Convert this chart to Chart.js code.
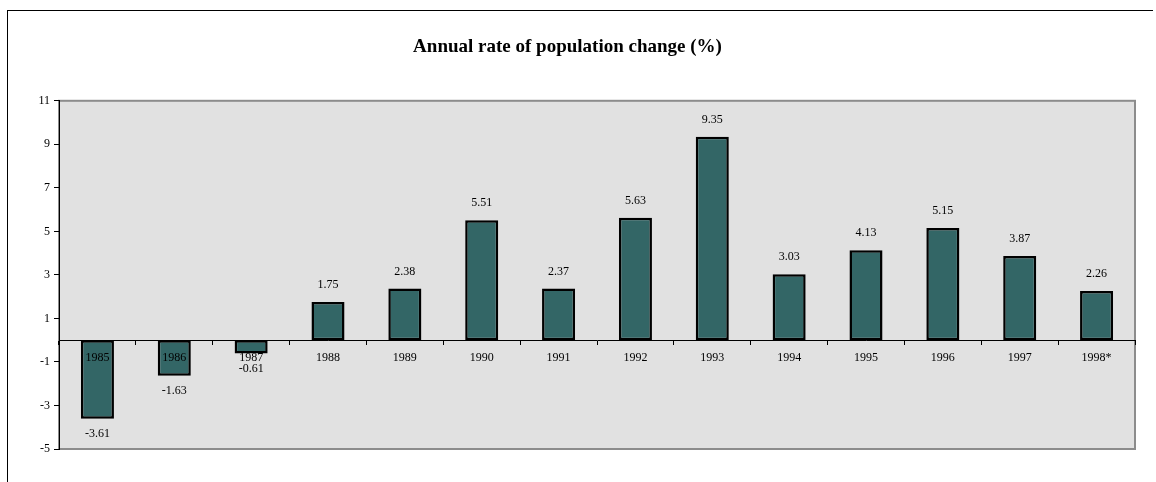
<!DOCTYPE html>
<html>
<head>
<meta charset="utf-8">
<script src="https://cdn.jsdelivr.net/npm/chart.js@4"></script>
<style>
  body { margin: 0; background: #fff; }
  #frame { position: absolute; left: 7px; top: 10px; width: 1145px; height: 500px;
           border-top: 1px solid #000; border-left: 1px solid #000; }
  #chart { position: absolute; left: 0; top: 0; }
</style>
</head>
<body>
<div id="frame"></div>
<canvas id="chart" width="1156" height="482"></canvas>
<script>
// values
var years = ['1985', '1986', '1987', '1988', '1989', '1990', '1991',
             '1992', '1993', '1994', '1995', '1996', '1997', '1998*'];
var rates = [-3.61, -1.63, -0.61, 1.75, 2.38, 5.51, 2.37,
             5.63, 9.35, 3.03, 4.13, 5.15, 3.87, 2.26];
var yTicks = [-5, -3, -1, 1, 3, 5, 7, 9, 11];

var serif = "'Liberation Serif', 'Times New Roman', serif";

// grey plot area with a grey frame, like the old spreadsheet chart
var plotBg = {
    id: 'plotBg',
    beforeDraw: function(chart) {
        var a = chart.chartArea, ctx = chart.ctx;
        ctx.save();
        ctx.fillStyle = '#e1e1e1';
        ctx.fillRect(a.left, a.top, a.right - a.left, a.bottom - a.top);
        ctx.strokeStyle = '#8c8c8c';
        ctx.lineWidth = 2;
        ctx.strokeRect(a.left, a.top, a.right - a.left, a.bottom - a.top);
        ctx.restore();
    }
};

// value labels above positive bars and below negative ones
var valueLabels = {
    id: 'valueLabels',
    afterDatasetsDraw: function(chart) {
        var ctx = chart.ctx;
        var meta = chart.getDatasetMeta(0);
        ctx.save();
        ctx.font = '12px ' + serif;
        ctx.fillStyle = '#000';
        ctx.textAlign = 'center';
        ctx.textBaseline = 'middle';
        meta.data.forEach(function(bar, i) {
            var v = rates[i];
            var y = v >= 0 ? bar.y - 17 : bar.y + 15;
            ctx.fillText(v.toFixed(2), bar.x, y);
        });
        ctx.restore();
    }
};

new Chart(document.getElementById('chart').getContext('2d'), {
    type: 'bar',
    data: {
        labels: years,
        datasets: [{
            data: rates,
            backgroundColor: '#336666',
            borderColor: '#000',
            borderWidth: 2.5,
            borderSkipped: false,
            barPercentage: 0.43,
            categoryPercentage: 1
        }]
    },
    options: {
        responsive: false,
        animation: false,
        devicePixelRatio: 1,
        layout: { padding: { left: 0, right: 21, bottom: 33 } },
        plugins: {
            legend: { display: false },
            tooltip: { enabled: false },
            title: {
                display: true,
                text: 'Annual rate of population change (%)',
                color: '#000',
                font: { family: serif, size: 19, weight: 'bold', lineHeight: 1.2 },
                padding: { top: 36, bottom: 42 }
            }
        },
        scales: {
            x: {
                position: { y: 0 },
                grid: { offset: true, drawOnChartArea: false, tickLength: 4, color: '#000' },
                border: { display: true, color: '#000', width: 1 },
                // labels go on top of the bars, as in the reference
                ticks: { z: 1, color: '#000', padding: 6, font: { family: serif, size: 12 }, maxRotation: 0 }
            },
            y: {
                min: -5,
                max: 11,
                afterBuildTicks: function(scale) {
                    scale.ticks = yTicks.map(function(v) { return { value: v }; });
                },
                afterFit: function(scale) { scale.width = 59; },
                grid: { drawOnChartArea: false, tickLength: 5, color: '#000' },
                border: { display: true, color: '#000', width: 1 },
                ticks: { color: '#000', padding: 4, font: { family: serif, size: 12 } }
            }
        }
    },
    plugins: [plotBg, valueLabels]
});
</script>
</body>
</html>
